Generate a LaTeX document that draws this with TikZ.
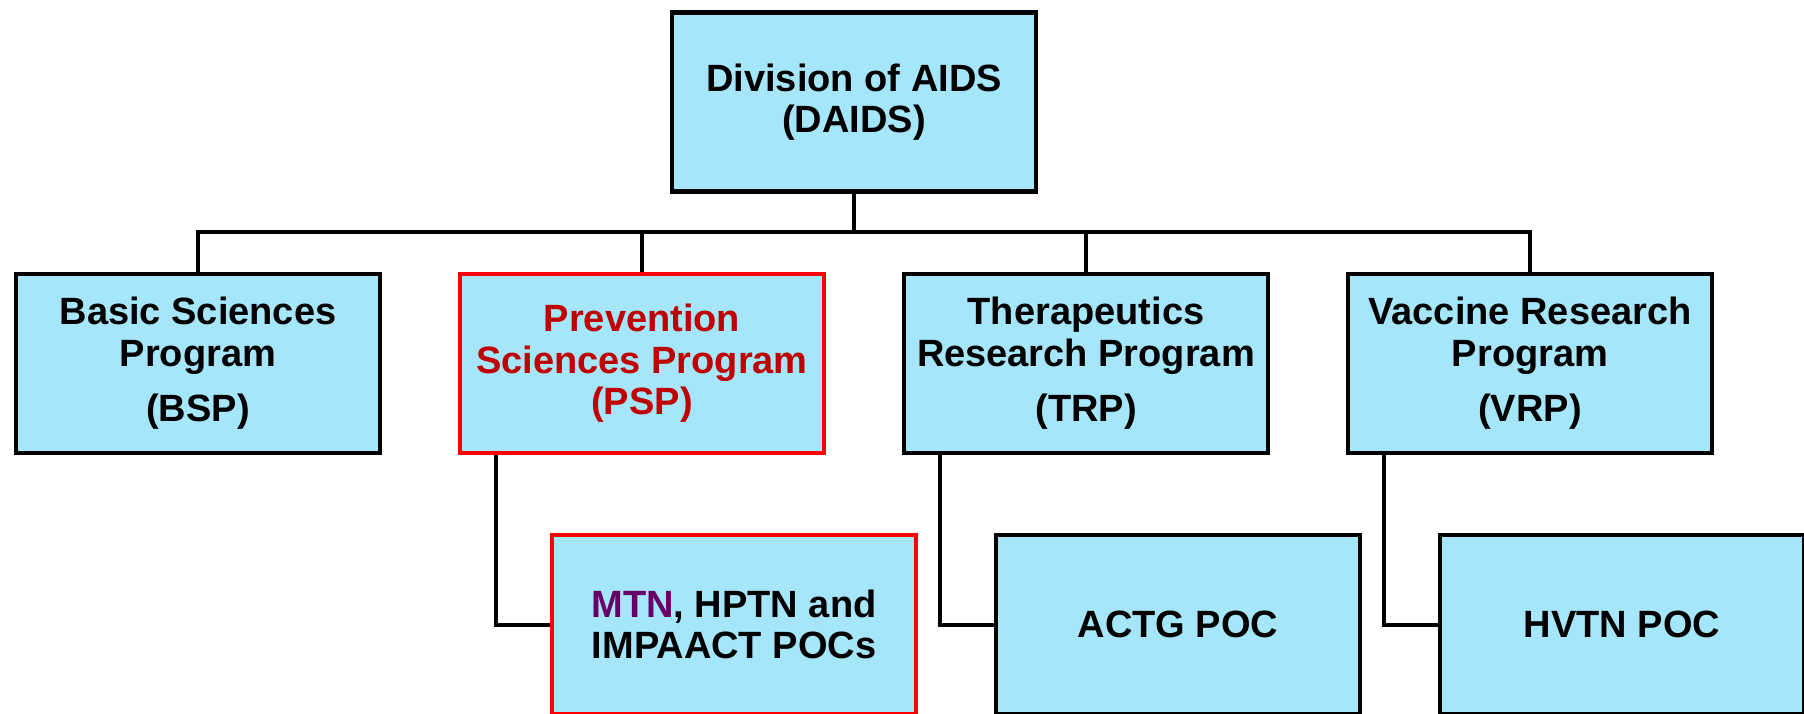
\documentclass[tikz,border=0pt]{standalone}
\usepackage{fontspec}
\setmainfont{Liberation Sans}
\usetikzlibrary{calc}
\definecolor{boxfill}{RGB}{166,230,251}
\definecolor{psptext}{RGB}{192,0,0}
\definecolor{pspline}{RGB}{255,0,0}
\definecolor{mtncol}{RGB}{102,0,102}
\tikzset{
  orgbox/.style={draw=black, line width=4.5pt, fill=boxfill, minimum width=364pt, minimum height=179pt,
    align=center, inner sep=0pt, font=\fontsize{38}{41.5}\selectfont\bfseries},
  redbox/.style={orgbox, draw=pspline},
  link/.style={draw=black, line width=4pt}
}
\begin{document}
\begin{tikzpicture}[x=1pt,y=-1pt]
\useasboundingbox (0,0) rectangle (1804,713);
\clip (0,0) rectangle (1804,713);
\fill[white] (0,0) rectangle (1804,713);
\coordinate (bus) at (854,232);
\node[orgbox] (daids) at (854,102) {Division of AIDS\\(DAIDS)};
\node[orgbox] (bsp) at (198,363.5) {Basic Sciences\\Program\\[14pt](BSP)};
\node[redbox, text=psptext] (psp) at (642,363.5) {Prevention\\Sciences Program\\(PSP)};
\node[orgbox] (trp) at (1086,363.5) {Therapeutics\\Research Program\\[14pt](TRP)};
\node[orgbox] (vrp) at (1530,363.5) {Vaccine Research\\Program\\[14pt](VRP)};
\node[redbox] (mtn) at (734,624.5) {\textcolor{mtncol}{MTN}, HPTN and\\IMPAACT POCs};
\node[orgbox] (actg) at (1178,624.5) {ACTG POC};
\node[orgbox] (hvtn) at (1622,624.5) {HVTN POC};
\draw[link] (daids.south) -- (bus);
\draw[link] (bsp.north) |- (bus);
\draw[link] (psp.north) |- (bus);
\draw[link] (trp.north) |- (bus);
\draw[link] (vrp.north) |- (bus);
\draw[link] ($(psp.south west)+(38,0)$) |- (mtn.west);
\draw[link] ($(trp.south west)+(38,0)$) |- (actg.west);
\draw[link] ($(vrp.south west)+(38,0)$) |- (hvtn.west);
\end{tikzpicture}
\end{document}
